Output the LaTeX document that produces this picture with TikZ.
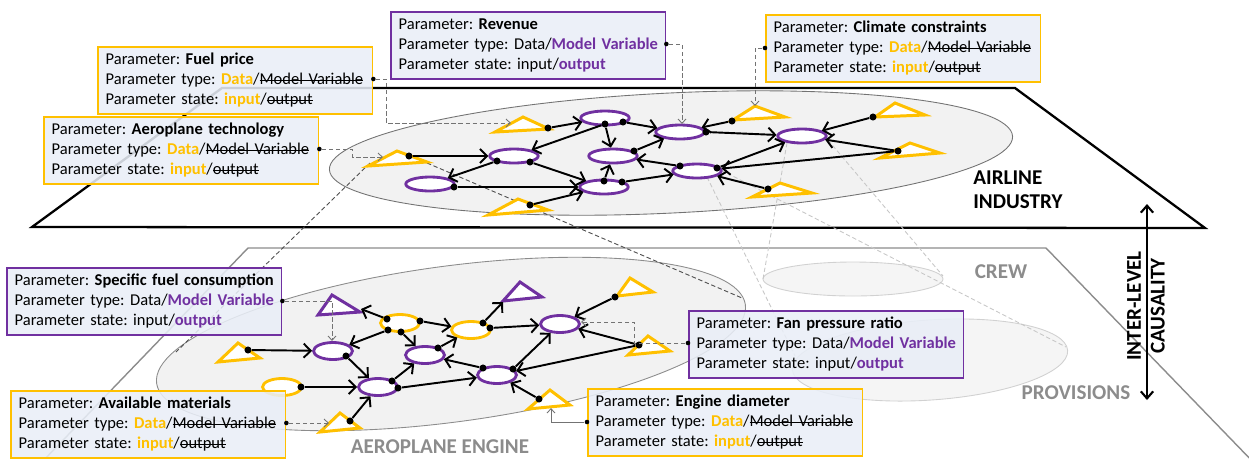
\documentclass[tikz,border=0pt]{standalone}
\usepackage{fontspec}
\setmainfont{Carlito}
\usetikzlibrary{shapes.geometric,arrows.meta,calc}
\definecolor{ylw}{HTML}{FFC000}
\definecolor{prp}{HTML}{7030A0}
\definecolor{boxfill}{HTML}{E9EEF7}
\definecolor{ellfill}{HTML}{F2F2F2}
\frenchspacing
\hyphenpenalty=10000
\exhyphenpenalty=10000
\newsavebox{\strkbox}
\newcommand{\strk}[1]{\sbox{\strkbox}{#1}\rlap{\rule[0.25em]{\wd\strkbox}{0.5pt}}\usebox{\strkbox}}
\newcommand{\ydata}{\textcolor{ylw}{\textbf{Data}}/\strk{Model Variable}}
\newcommand{\yinput}{\textcolor{ylw}{\textbf{input}}/\strk{output}}
\newcommand{\pmodel}{Data/\textcolor{prp}{\textbf{Model Variable}}}
\newcommand{\poutput}{input/\textcolor{prp}{\textbf{output}}}
\newcommand{\yparam}[1]{\mbox{Parameter: \textbf{#1}}\\\mbox{Parameter type: \ydata}\\\mbox{Parameter state: \yinput}}
\newcommand{\pparam}[1]{\mbox{Parameter: \textbf{#1}}\\\mbox{Parameter type: \pmodel}\\\mbox{Parameter state: \poutput}}
\begin{document}
\begin{tikzpicture}[x=0.02cm,y=-0.02cm,
  arr/.style={line width=1.1pt,-{Straight Barb[length=4pt,width=8pt]}},
  dot/.style={circle,fill=black,inner sep=0pt,minimum size=4pt},
  bdot/.style={circle,fill=black,inner sep=0pt,minimum size=2.6pt},
  tell/.style={ellipse,draw=prp,line width=1.6pt,fill=white,minimum width=0.97cm,minimum height=0.28cm,inner sep=0pt},
  lellp/.style={ellipse,draw=prp,line width=1.6pt,fill=white,minimum width=0.78cm,minimum height=0.34cm,inner sep=0pt},
  lelly/.style={lellp,draw=ylw},
  tri/.style={draw=ylw,line width=1.7pt,fill=white,line join=miter},
  trip/.style={tri,draw=prp},
  dconn/.style={draw=black!55,dash pattern=on 2.5pt off 1.5pt,line width=0.5pt,-{Straight Barb[length=2.5pt,width=4.5pt,line width=0.5pt]}},
  cone/.style={draw=black!70,dash pattern=on 2.5pt off 1.5pt,line width=0.5pt},
  lcone/.style={draw=black!22,dash pattern=on 2.5pt off 1.5pt,line width=0.5pt},
  pbox/.style={draw=#1,line width=0.9pt,fill=boxfill,fill opacity=0.87,text opacity=1,anchor=north west,
     text width=5.18cm,inner xsep=4.5pt,inner ysep=0pt,minimum height=1.34cm,align=left,
     font=\fontsize{9.4}{11.3}\selectfont},
  lbl/.style={font=\bfseries\fontsize{12}{13.6}\selectfont,inner sep=0pt},
  lblg/.style={lbl,text=black!45}]
\useasboundingbox (0,0) rectangle (1249,458);
% lower plane
\begin{scope}
\clip (0,0) rectangle (1249,458);
\draw[black!45,line width=0.8pt] (42,462) -- (248,248) -- (1046,248) -- (1257,466);
\end{scope}
% crew and provisions ellipses
\draw[black!18,fill=black!4,line width=0.5pt] (853,279) ellipse [x radius=90,y radius=17];
\draw[black!18,fill=black!4,line width=0.5pt,rotate around={4:(930,360)}] (930,360) ellipse [x radius=138,y radius=40];
% lower ellipse
\draw[black!45,fill=ellfill,line width=0.5pt,rotate around={7.6:(451,344)}] (451,344) ellipse [x radius=297,y radius=78];
% top plane
\draw[black,line width=1.3pt,line join=miter] (222,88) -- (1015,88) -- (1205,228) -- (32,227) -- cycle;
% top ellipse
\draw[black!55,fill=ellfill,line width=0.5pt,rotate around={2.8:(671,153)}] (671,153) ellipse [x radius=342,y radius=60];
% cone lines
\coordinate (k1) at (370,163); \coordinate (k1e) at (176,352);
\coordinate (k2) at (427,163); \coordinate (k2e) at (742,298);
\draw[cone] (k1) -- (k1e);
\draw[cone] (k2) -- (k2e);
\coordinate (k3) at (787,143); \coordinate (k3e) at (763,279);
\coordinate (k4) at (828,140); \coordinate (k4e) at (943,276);
\coordinate (k5) at (707,177); \coordinate (k5e) at (795,356);
\coordinate (k6) at (721,170); \coordinate (k6e) at (1066,347);
\draw[lcone] (k3) -- (k3e);
\draw[lcone] (k4) -- (k4e);
\draw[lcone] (k5) -- (k5e);
\draw[lcone] (k6) -- (k6e);
% ---------- top network
\node[tell] (E1) at (605,118) {};
\node[tell] (E2) at (680,132) {};
\node[tell] (E3) at (613,156) {};
\node[tell] (E4) at (514,156) {};
\node[tell] (E5) at (430,184) {};
\node[tell] (E6) at (604,187) {};
\node[tell] (E7) at (697,171) {};
\node[tell] (E8) at (802,136) {};
\draw[tri] (495,132) -- (523,117) -- (549,129) -- cycle;
\draw[tri] (368,166) -- (397,151) -- (427,162) -- cycle;
\draw[tri] (488,215) -- (518,199) -- (548,210) -- cycle;
\draw[tri] (733,120) -- (755,106) -- (785,117) -- cycle;
\draw[tri] (875,117) -- (895,103) -- (925,115) -- cycle;
\draw[tri] (880,158) -- (910,143) -- (940,153) -- cycle;
\draw[tri] (752,197) -- (780,183) -- (812,193) -- cycle;
\node[dot] (dT1) at (548,128) {};
\node[dot] (dT2) at (409,156) {};
\node[dot] (dT3) at (530,205) {};
\node[dot] (dT4) at (732,121) {};
\node[dot] (dT5) at (873,117) {};
\node[dot] (dT6) at (898,151) {};
\node[dot] (dT7) at (768,189) {};
\node[dot] (dE1a) at (605,124) {};
\node[dot] (dE1b) at (623,122) {};
\node[dot] (dE4a) at (497,161) {};
\node[dot] (dE4b) at (530,162) {};
\node[dot] (dE5) at (454,187) {};
\node[dot] (dE6a) at (604,181) {};
\node[dot] (dE6b) at (622,182) {};
\node[dot] (dE3) at (634,151) {};
\node[dot] (dE7a) at (680,166) {};
\node[dot] (dE7b) at (717,168) {};
\node[dot] (dE2) at (706,132) {};
\draw[arr] (dT1) -- (E1);
\draw[arr] (dE1a) -- (E4);
\draw[arr] (dE1a) -- (E3);
\draw[arr] (dE1b) -- (E2);
\draw[arr] (dT2) -- (E4);
\draw[arr] (dE4a) -- (E5);
\draw[arr] (dE4b) -- (E6);
\draw[arr] (dE5) -- (E6);
\draw[arr] (dT3) -- (E6);
\draw[arr] (dE6a) -- (E3);
\draw[arr] (dE6b) -- (E7);
\draw[arr] (dE3) -- (E2);
\draw[arr] (dE7a) -- (E3);
\draw[arr] (dE2) -- (E8);
\draw[arr] (dT4) -- (E2);
\draw[arr] (dT5) -- (E8);
\draw[arr] (dT6) -- (E8);
\draw[arr] (dT6) -- (E7);
\draw[arr] (dE7b) -- (E8);
\draw[arr] (dT7) -- (E7);
% ---------- lower network
\node[lellp] (L1) at (333,351) {};
\node[lelly] (L2) at (400,323) {};
\node[lelly] (L3) at (471,330) {};
\node[lellp] (L4) at (425,355) {};
\node[lellp] (L5) at (378,387) {};
\node[lelly] (L6) at (282,387) {};
\node[lellp] (L7) at (497,375) {};
\node[lellp] (L8) at (560,324) {};
\draw[trip] (318,315) -- (332,295) -- (360,312) -- cycle;
\draw[trip] (503,301) -- (520,282) -- (542,297) -- cycle;
\draw[tri] (617,296) -- (630,278) -- (653,292) -- cycle;
\draw[tri] (628,355) -- (648,336) -- (670,351) -- cycle;
\draw[tri] (528,409) -- (550,390) -- (570,405) -- cycle;
\draw[tri] (218,362) -- (238,343) -- (260,358) -- cycle;
\draw[tri] (320,432) -- (340,413) -- (360,428) -- cycle;
\coordinate (tLT1) at (361,309);
\coordinate (tLT2) at (503,302);
\node[dot] (dLT3) at (615,297) {};
\node[dot] (dLT4) at (639,345) {};
\node[dot] (dLT5) at (539,399) {};
\node[dot] (dLT6) at (248,350) {};
\node[dot] (dLT7) at (350,421) {};
\node[dot] (dL2a) at (387,319) {};
\node[dot] (dL2b) at (420,321) {};
\node[dot] (dL2c) at (388,330) {};
\node[dot] (dL2d) at (401,332) {};
\node[dot] (dL1) at (346,356) {};
\node[dot] (dL6) at (301,387) {};
\node[dot] (dL5a) at (392,381) {};
\node[dot] (dL5b) at (398,388) {};
\node[dot] (dL4) at (438,348) {};
\node[dot] (dL3a) at (483,323) {};
\node[dot] (dL3b) at (490,328) {};
\node[dot] (dL7a) at (483,368) {};
\node[dot] (dL7b) at (513,369) {};
\draw[arr] (dL2a) -- (tLT1);
\draw[arr] (dL2b) -- (L3);
\draw[arr] (dL2c) -- (L1);
\draw[arr] (dL2d) -- (L4);
\draw[arr] (dLT6) -- (L1);
\draw[arr] (dL1) -- (L5);
\draw[arr] (dL6) -- (L5);
\draw[arr] (dL5a) -- (L4);
\draw[arr] (dL5b) -- (L7);
\draw[arr] (dLT7) -- (L5);
\draw[arr] (dL4) -- (L3);
\draw[arr] (dL3a) -- (tLT2);
\draw[arr] (dL3b) -- (L8);
\draw[arr] (dL7a) -- (L4);
\draw[arr] (dL7b) -- (L8);
\draw[arr] (dLT3) -- (L8);
\draw[arr] (dLT4) -- (L8);
\draw[arr] (dLT4) -- (L7);
\draw[arr] (dLT5) -- (L7);
% ---------- parameter boxes
\node[pbox=ylw] (Fuel) at (97,46) {\yparam{Fuel price}};
\node[pbox=ylw] (Aero) at (43,116) {\yparam{Aeroplane technology}};
\node[pbox=prp] (Rev) at (390,11) {\pparam{Revenue}};
\node[pbox=ylw] (Clim) at (765,14) {\yparam{Climate constraints}};
\node[pbox=prp] (SFC) at (6,267) {\pparam{Specific fuel consumption}};
\node[pbox=ylw] (Avail) at (10,390) {\yparam{Available materials}};
\node[pbox=prp] (Fan) at (688,310) {\pparam{Fan pressure ratio}};
\node[pbox=ylw] (Eng) at (587,388) {\yparam{Engine diameter}};
% box dots and dashed links
\node[bdot] (bFuel) at (Fuel.east |- 0,79) {};
\node[bdot] (bAero) at (Aero.east |- 0,149) {};
\node[bdot] (bRev) at (Rev.east |- 0,44) {};
\node[bdot] (bClim) at (Clim.west |- 0,48) {};
\node[bdot] (bSFC) at (SFC.east |- 0,301) {};
\node[bdot] (bAvail) at (Avail.east |- 0,423) {};
\node[bdot] (bFan) at (Fan.west |- 0,343) {};
\node[bdot] (bEng) at (Eng.west |- 0,422) {};
\coordinate (cT1) at (511,123);
\coordinate (cT2) at (383,157);
\coordinate (cE2) at (682,124);
\coordinate (cT4) at (755,106);
\coordinate (cL1) at (332,341);
\coordinate (cLT7) at (329,423);
\coordinate (cL8) at (581,322);
\coordinate (cLT5) at (551,408);
\draw[dconn] (bFuel) -- (386,79) -- (386,123) -- (cT1);
\draw[dconn] (bAero) -- (352,149) -- (352,157) -- (cT2);
\draw[dconn] (bRev) -- (682,44) -- (cE2);
\draw[dconn] (bClim) -- (755,48) -- (cT4);
\draw[dconn] (bSFC) -- (332,301) -- (cL1);
\draw[dconn] (bAvail) -- (cLT7);
\draw[dconn] (bFan) -- (634,343) -- (634,322) -- (cL8);
\draw[black!55,line width=0.5pt,-{Straight Barb[length=2.5pt,width=4.5pt]}] (bEng) -- (551,422) -- (cLT5);
% ---------- labels
\node[lbl,anchor=west,align=left] (airline) at (973,190) {AIRLINE\\INDUSTRY};
\node[lblg] (crew) at (1001,272) {CREW};
\node[lblg] (prov) at (1076,393) {PROVISIONS};
\node[lblg] (aeng) at (440,447) {AEROPLANE ENGINE};
\node[lbl,rotate=90,align=center] (ilc) at (1146,306) {INTER-LEVEL\\CAUSALITY};
\coordinate (ar1) at (1147,204);
\coordinate (ar2) at (1147,400);
\draw[line width=1.2pt,{Straight Barb[length=4pt,width=7pt]}-{Straight Barb[length=4pt,width=7pt]}] (ar1) -- (ar2);
\end{tikzpicture}
\end{document}
